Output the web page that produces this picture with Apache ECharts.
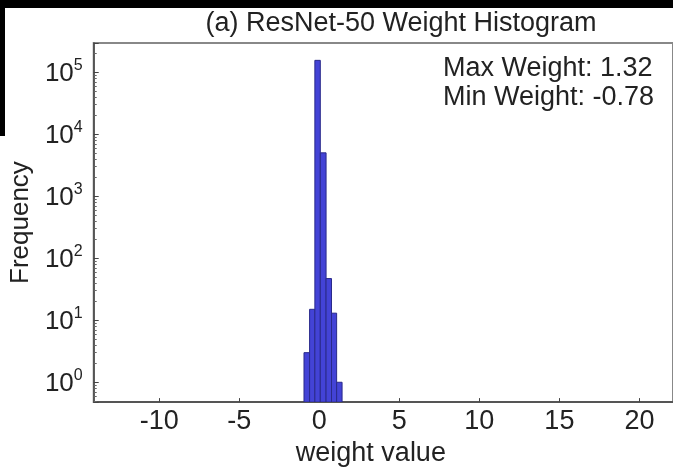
<!DOCTYPE html>
<html>
<head>
    <meta charset="utf-8">
    <title>ResNet-50 Weight Histogram</title>
    <script src="https://cdn.jsdelivr.net/npm/echarts@6.0.0/dist/echarts.min.js"></script>
</head>
<body style="margin:0;background:#fff;">
    <div id="main" style="width: 673px;height: 472px;"></div>
    <script type="text/javascript">
        // histogram bins (weight value) and their counts
        var binEdges = [-0.96, -0.61, -0.28, 0.06, 0.42, 0.76, 1.08, 1.42];
        var binCounts = [3, 15, 155000, 5000, 47, 13, 1];
        var statLines = ['Max Weight: 1.32', 'Min Weight: -0.78'];

        var yMin = Math.pow(10, -0.32);
        var yMax = Math.pow(10, 5.47);
        var font = 'Liberation Sans';

        var bars = [];
        for (var i = 0; i < binCounts.length; i++) {
            bars.push([binEdges[i], binEdges[i + 1], binCounts[i]]);
        }

        var myChart = echarts.init(document.getElementById('main'));

        var option = {
            backgroundColor: '#fff',
            animation: false,
            title: {
                text: '(a) ResNet-50 Weight Histogram',
                left: 396,
                top: 5,
                textAlign: 'center',
                textStyle: { fontFamily: font, fontSize: 27, fontWeight: 'normal', color: '#222' }
            },
            graphic: [
                // black scan borders
                { type: 'rect', z: 0, shape: { x: 0, y: 0, width: 673, height: 8 }, style: { fill: '#000' } },
                { type: 'rect', z: 0, shape: { x: 0, y: 0, width: 5, height: 136 }, style: { fill: '#000' } },
                {
                    type: 'text', x: 443, y: 54, z: 10,
                    style: {
                        text: statLines.join('\n'),
                        font: '27px "Liberation Sans"',
                        lineHeight: 29,
                        fill: '#222',
                        textAlign: 'left',
                        textVerticalAlign: 'top'
                    }
                }
            ],
            grid: {
                left: 90,
                top: 43,
                bottom: 67,
                right: -10,
                show: true,
                borderColor: '#888',
                borderWidth: 2
            },
            xAxis: {
                type: 'value',
                min: -14.1,
                max: 22.1,
                splitNumber: 8,
                name: 'weight value',
                nameLocation: 'middle',
                nameGap: 31,
                nameTextStyle: { fontFamily: font, fontSize: 27, color: '#222', padding: [0, 25, 0, 0] },
                axisLine: { onZero: false, lineStyle: { color: '#444', width: 1.5 } },
                axisTick: { inside: true, length: 4, lineStyle: { color: '#444' } },
                splitLine: { show: false },
                axisLabel: {
                    fontFamily: font, fontSize: 27, color: '#222', margin: 6,
                    showMinLabel: false, showMaxLabel: false,
                    formatter: function (v) {
                        return Math.abs(v % 5) < 1e-6 ? String(v) : '';
                    }
                }
            },
            yAxis: {
                type: 'log',
                min: yMin,
                max: yMax,
                name: 'Frequency',
                nameLocation: 'middle',
                nameGap: 54,
                nameTextStyle: { fontFamily: font, fontSize: 26, color: '#222' },
                axisLine: { onZero: false, lineStyle: { color: '#444', width: 1.5 } },
                axisTick: { inside: true, length: 5, lineStyle: { color: '#444' } },
                minorTick: { show: true, splitNumber: 9, length: 3, lineStyle: { color: '#666' } },
                splitLine: { show: false },
                axisLabel: {
                    margin: 11,
                    formatter: function (v) {
                        var e = Math.log10(v);
                        if (Math.abs(e - Math.round(e)) > 1e-6) return '';
                        return '{b|10}{s|' + Math.round(e) + '}';
                    },
                    rich: {
                        b: { fontFamily: font, fontSize: 26, color: '#222', lineHeight: 30, verticalAlign: 'bottom' },
                        s: { fontFamily: font, fontSize: 16, color: '#222', lineHeight: 16, verticalAlign: 'top' }
                    }
                }
            },
            series: [
                {
                    name: 'weights',
                    type: 'custom',
                    clip: true,
                    data: bars,
                    renderItem: function (params, api) {
                        var p0 = api.coord([api.value(0), api.value(2)]);
                        var p1 = api.coord([api.value(1), yMin]);
                        return {
                            type: 'rect',
                            shape: { x: p0[0], y: p0[1], width: p1[0] - p0[0], height: p1[1] - p0[1] },
                            style: { fill: '#4343d6', stroke: '#2a2a8a', lineWidth: 1 }
                        };
                    }
                }
            ]
        };

        myChart.setOption(option);
        window.onresize = myChart.resize;
    </script>
</body>
</html>
